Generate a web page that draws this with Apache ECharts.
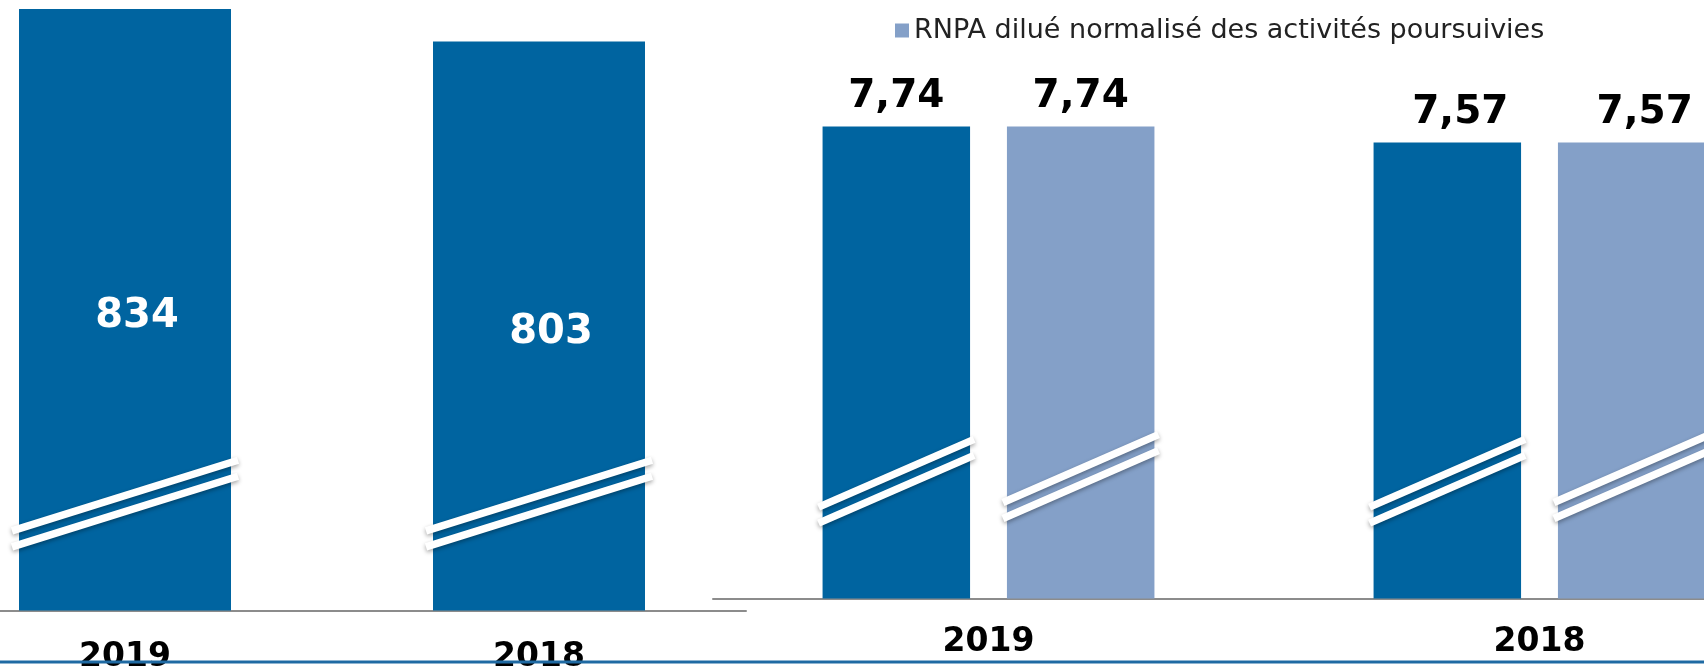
<!DOCTYPE html>
<html>
<head>
<meta charset="utf-8">
<script src="https://cdn.jsdelivr.net/npm/echarts@6/dist/echarts.min.js"></script>
<style>
  html, body { margin: 0; padding: 0; background: #fff; }
  #chart { width: 1704px; height: 669px; }
</style>
</head>
<body>
<div id="chart"></div>
<script>
// données
const years = ['2019', '2018'];
const resultatNet = [834, 803];
const rnpaDilue = [7.74, 7.57];
const rnpaNormalise = [7.74, 7.57];
const legendLabel = 'RNPA dilué normalisé des activités poursuivies';

const darkBlue = '#0064a0';
const lightBlue = '#84a0c8';

const chart = echarts.init(document.getElementById('chart'));

// deux traits blancs obliques sur chaque colonne (axe rompu)
function breakMarks(level, barWidth, offset, slope, ext) {
  return function (params, api) {
    const c = api.coord([api.value(0), level]);
    const cx = c[0] + offset;
    const half = barWidth / 2 + ext;
    const children = [-8, 8].map(function (dy) {
      return {
        type: 'line',
        shape: {
          x1: cx - half, y1: c[1] + dy + half * slope,
          x2: cx + half, y2: c[1] + dy - half * slope
        },
        style: {
          stroke: '#fff', lineWidth: 7.5,
          shadowBlur: 4, shadowColor: 'rgba(0,0,0,0.35)', shadowOffsetY: 2
        }
      };
    });
    return { type: 'group', children: children };
  };
}

// virgule décimale
function frNumber(p) {
  return String(p.value).replace('.', ',');
}

const valueLabel = {
  show: true,
  position: 'top',
  distance: 10,
  color: '#000',
  fontFamily: 'DejaVu Sans',
  fontWeight: 'bold',
  fontSize: 39,
  formatter: frNumber
};

function withOffset(values, dx) {
  return values.map(function (v, i) {
    return { value: v, label: { offset: [i === 1 ? dx : 0, 0] } };
  });
}

function yearLabel(margin) {
  return {
    color: '#000',
    fontFamily: 'DejaVu Sans',
    fontWeight: 'bold',
    fontSize: 33,
    margin: margin
  };
}

const option = {
  animation: false,
  legend: {
    left: 890,
    top: 12,
    icon: 'rect',
    itemWidth: 14,
    itemHeight: 14,
    data: [legendLabel],
    textStyle: { fontFamily: 'DejaVu Sans', fontSize: 27, color: '#222' }
  },
  grid: [
    { left: -82, width: 828, top: 0, height: 610.5, outerBoundsMode: 'none' },
    { left: 713, width: 1102, top: 0, height: 598.5, outerBoundsMode: 'none' }
  ],
  xAxis: [
    {
      type: 'category', gridIndex: 0, data: years,
      axisTick: { show: false },
      axisLine: { lineStyle: { color: '#8c8c8c', width: 2 } },
      axisLabel: yearLabel(30)
    },
    {
      type: 'category', gridIndex: 1, data: years,
      axisTick: { show: false },
      axisLine: { lineStyle: { color: '#8c8c8c', width: 2 } },
      axisLabel: yearLabel(27)
    }
  ],
  yAxis: [
    { type: 'value', gridIndex: 0, min: 260, max: 842.5, show: false },
    { type: 'value', gridIndex: 1, min: 2.67, max: 9.1, show: false }
  ],
  series: [
    {
      name: 'Résultat net',
      type: 'bar',
      xAxisIndex: 0, yAxisIndex: 0,
      barWidth: 212,
      data: resultatNet,
      itemStyle: { color: darkBlue },
      label: {
        show: true, position: 'inside', offset: [12, 7],
        color: '#fff', fontFamily: 'DejaVu Sans', fontWeight: 'bold', fontSize: 40
      }
    },
    {
      name: 'RNPA dilué des activités poursuivies',
      type: 'bar',
      xAxisIndex: 1, yAxisIndex: 1,
      barWidth: 147.5,
      barGap: '25%',
      data: withOffset(rnpaDilue, 13),
      itemStyle: { color: darkBlue },
      label: valueLabel
    },
    {
      name: legendLabel,
      type: 'bar',
      xAxisIndex: 1, yAxisIndex: 1,
      barWidth: 147.5,
      barGap: '25%',
      data: withOffset(rnpaNormalise, 13),
      itemStyle: { color: lightBlue },
      label: valueLabel
    },
    {
      type: 'custom', xAxisIndex: 0, yAxisIndex: 0, z: 5,
      data: years.map(function (y, i) { return [i]; }),
      renderItem: breakMarks(362, 212, 0, 0.3125, 7)
    },
    {
      type: 'custom', xAxisIndex: 1, yAxisIndex: 1, z: 5,
      data: years.map(function (y, i) { return [i]; }),
      renderItem: breakMarks(3.93, 147.5, -92.2, 0.436, 4)
    },
    {
      type: 'custom', xAxisIndex: 1, yAxisIndex: 1, z: 5,
      data: years.map(function (y, i) { return [i]; }),
      renderItem: breakMarks(3.98, 147.5, 92.2, 0.436, 4)
    }
  ],
  graphic: [
    {
      type: 'rect', left: 0, top: 660.5, z: 100,
      shape: { width: 1704, height: 3 },
      style: { fill: '#1f6aa3' }
    }
  ]
};

chart.setOption(option);
</script>
</body>
</html>
